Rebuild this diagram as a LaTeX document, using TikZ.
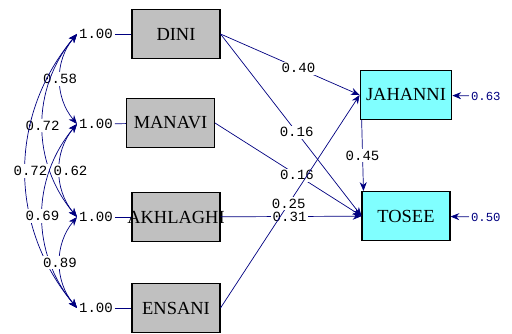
\documentclass[tikz,border=0pt]{standalone}
\usepackage{fontspec}
\setmainfont{Liberation Serif}
\setmonofont{Liberation Mono}
\usetikzlibrary{arrows.meta}

\definecolor{navy}{RGB}{0,0,128}
\definecolor{boxgray}{RGB}{192,192,192}
\definecolor{boxcyan}{RGB}{128,255,255}

\begin{document}
\begin{tikzpicture}[x=0.02cm,y=-0.02cm,
    >={Stealth[length=5pt,width=4pt]},
    xvar/.style={draw,semithick,fill=boxgray,minimum width=1.76cm,minimum height=0.98cm,
        font=\fontsize{10.5}{12}\selectfont},
    yvar/.style={xvar,fill=boxcyan},
    coef/.style={fill=white,inner sep=1pt,text=black,font=\ttfamily\fontsize{8}{9}\selectfont},
    errlab/.style={inner sep=1pt,text=navy,font=\ttfamily\fontsize{7}{8}\selectfont},
    effect/.style={navy,->},
    corr/.style={navy,<->,bend right=40}]
    \useasboundingbox (0,0) rectangle (512,334);

    % exogenous variables
    \node[xvar] (dini) at (176,34) {DINI};
    \node[xvar] (manavi) at (170.5,123) {MANAVI};
    \node[xvar] (akhlaghi) at (176,217) {\makebox[0pt]{AKHLAGHI}};
    \node[xvar] (ensani) at (176,308) {ENSANI};

    % endogenous variables
    \node[yvar] (jahanni) at (406,95) {JAHANNI};
    \node[yvar] (tosee) at (406,216) {TOSEE};

    % variances
    \foreach \n/\y in {dini/34,manavi/124,akhlaghi/217,ensani/308}
    {
        \node[coef,anchor=west] (\n1) at (77,\y) {1.00};
        \draw[navy] (\n1) -- (\n);
    }

    % correlations
    \draw[corr] (dini1.west) to node[coef]{0.58} (manavi1.west);
    \draw[corr] (manavi1.west) to node[coef,xshift=0.22cm]{0.62} (akhlaghi1.west);
    \draw[corr] (dini1.west) to node[coef]{0.72} (akhlaghi1.west);
    \draw[corr] (dini1.west) to node[coef,xshift=0.1cm]{0.72} (ensani1.west);
    \draw[corr] (manavi1.west) to node[coef]{0.69} (ensani1.west);
    \draw[corr] (akhlaghi1.west) to node[coef]{0.89} (ensani1.west);

    % paths
    \draw[effect] (dini.east) -- node[coef,pos=0.56]{0.40} (jahanni.west);
    \draw[effect] (dini.east) -- node[coef,pos=0.54]{0.16} (tosee.west);
    \draw[effect] (manavi.east) -- node[coef,pos=0.56]{0.16} (tosee.west);
    \draw[effect] (akhlaghi) -- node[coef,pos=0.49]{0.31} (tosee);
    \draw[effect] (ensani.east) -- node[coef,pos=0.49]{0.25} (jahanni.west);
    \draw[effect] ([xshift=0.04cm]jahanni.south west) -- node[coef]{0.45}
        ([xshift=0.04cm]tosee.north west);

    % errors
    \node[errlab,anchor=west] (e1) at (469,96) {0.63};
    \node[errlab,anchor=west] (e2) at (469,217) {0.50};
    \draw[effect] (e1) -- (jahanni);
    \draw[effect] (e2) -- (tosee);
\end{tikzpicture}
\end{document}
